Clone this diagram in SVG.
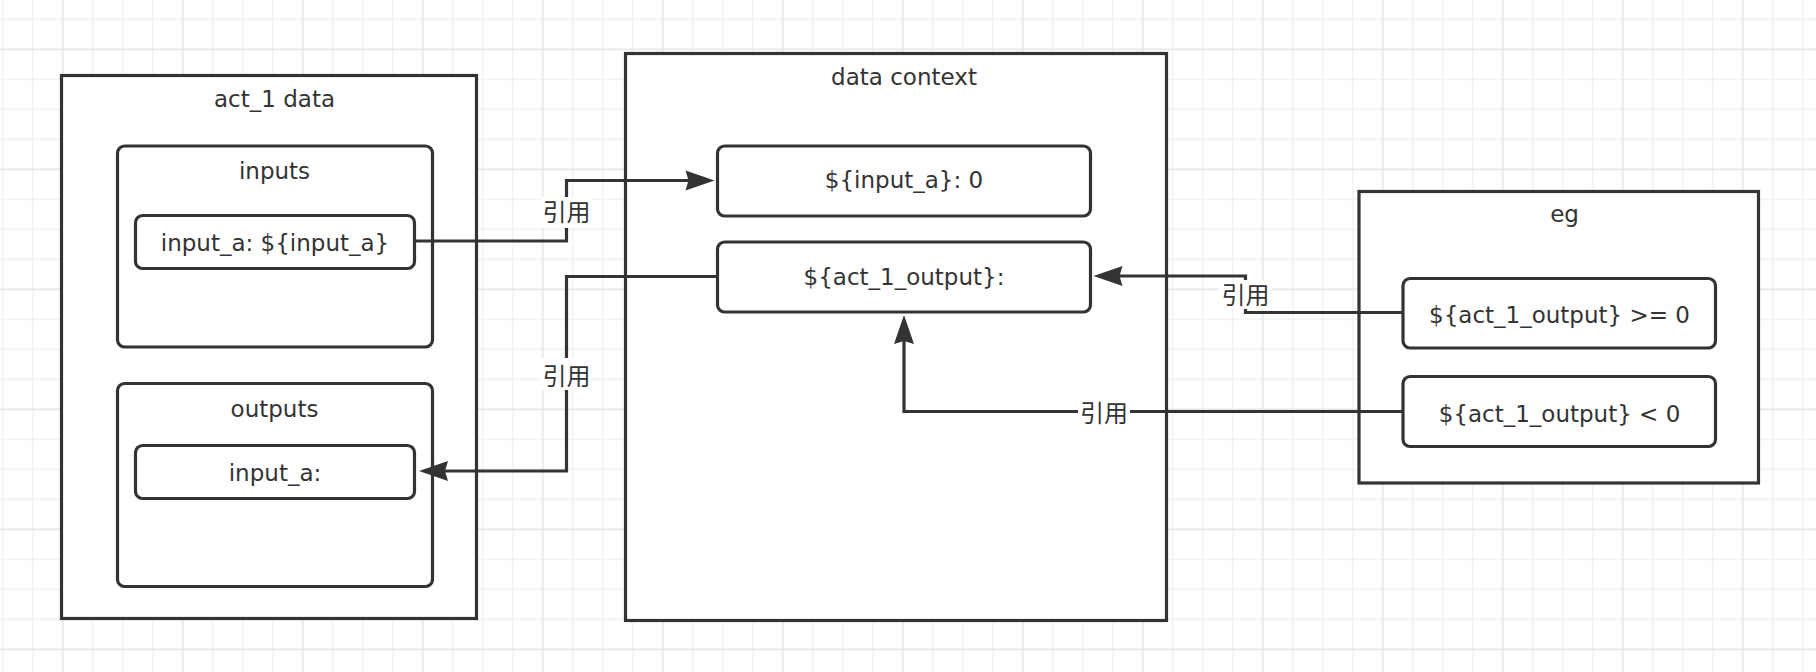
<svg xmlns="http://www.w3.org/2000/svg" width="1816" height="672" viewBox="0 0 1816 672">
<style>
.box{fill:#fff;stroke:#333;stroke-width:3.2}
.t{font-family:"DejaVu Sans","Noto Sans",sans-serif;font-size:23px;fill:#333;text-anchor:middle}
.cn{font-family:"Noto Sans CJK SC","Noto Sans",sans-serif;font-size:24px;fill:#333;text-anchor:middle}
.edge{fill:none;stroke:#333;stroke-width:3.2}
.lbg{fill:#fff}
</style>
<defs>
<pattern id="grid" patternUnits="userSpaceOnUse" x="-12.3" y="4.3" width="120" height="120">
<rect width="120" height="120" fill="#fff"/>
<g fill="#f1f1f1">
<rect x="14.3" y="0" width="1.5" height="120"/>
<rect x="44.3" y="0" width="1.5" height="120"/>
<rect x="104.3" y="0" width="1.5" height="120"/>
<rect x="0" y="14.3" width="120" height="1.5"/>
<rect x="0" y="74.3" width="120" height="1.5"/>
<rect x="0" y="104.3" width="120" height="1.5"/>
</g>
<g fill="#e6e6e6">
<rect x="74.3" y="0" width="1.6" height="120"/>
<rect x="0" y="44.3" width="120" height="1.6"/>
</g>
</pattern>
<marker id="arr" markerUnits="userSpaceOnUse" markerWidth="32" markerHeight="24" refX="10" refY="10" orient="auto" overflow="visible">
<path d="M0,0 L29,10 L0,20 L3,10 z" fill="#333"/>
</marker>
</defs>
<rect width="1816" height="672" fill="url(#grid)"/>

<g id="act1-data">
<rect class="box" x="61.5" y="75.5" width="415" height="543"/>
<text class="t" x="274.5" y="107">act_1 data</text>
</g>
<g id="inputs">
<rect class="box" x="117.5" y="146" width="315" height="201" rx="7"/>
<text class="t" x="274.5" y="179">inputs</text>
</g>
<g id="input-a-in">
<rect class="box" x="135.5" y="215.5" width="279" height="53" rx="7"/>
<text class="t" x="275" y="251">input_a: ${input_a}</text>
</g>
<g id="outputs">
<rect class="box" x="117.5" y="383.5" width="315" height="203" rx="7"/>
<text class="t" x="274.5" y="417">outputs</text>
</g>
<g id="input-a-out">
<rect class="box" x="135.5" y="445.5" width="279" height="53" rx="7"/>
<text class="t" x="275" y="481">input_a:</text>
</g>

<g id="data-context">
<rect class="box" x="625.5" y="53.5" width="541" height="567"/>
<text class="t" x="904" y="85">data context</text>
</g>
<g id="ctx-input-a">
<rect class="box" x="717.5" y="146" width="373" height="70" rx="7"/>
<text class="t" x="904" y="188">${input_a}: 0</text>
</g>
<g id="ctx-act1-output">
<rect class="box" x="717.5" y="242" width="373" height="70" rx="7"/>
<text class="t" x="904" y="285">${act_1_output}:</text>
</g>

<g id="eg">
<rect class="box" x="1359" y="191.5" width="399.5" height="291.5"/>
<text class="t" x="1564.5" y="222">eg</text>
</g>
<g id="eg-ge">
<rect class="box" x="1403" y="278.5" width="312.5" height="69.5" rx="7"/>
<text class="t" x="1559.5" y="323">${act_1_output} &gt;= 0</text>
</g>
<g id="eg-lt">
<rect class="box" x="1403" y="376.5" width="312.5" height="70" rx="7"/>
<text class="t" x="1559.5" y="422">${act_1_output} &lt; 0</text>
</g>

<g id="connectors">
<path class="edge" d="M414.5,241 H566.5 V180.5 H695.5" marker-end="url(#arr)"/>
<path class="edge" d="M717.5,276.5 H566.5 V471 H438" marker-end="url(#arr)"/>
<path class="edge" d="M1403,312.5 H1245.5 V276 H1112.5" marker-end="url(#arr)"/>
<path class="edge" d="M1403,411.5 H904 V334" marker-end="url(#arr)"/>
<rect class="lbg" x="541" y="197" width="51" height="31"/>
<text class="cn" x="566.5" y="221">引用</text>
<rect class="lbg" x="541" y="358" width="51" height="32"/>
<text class="cn" x="566.5" y="385">引用</text>
<rect class="lbg" x="1219" y="280" width="53" height="29"/>
<text class="cn" x="1245.5" y="304">引用</text>
<rect class="lbg" x="1078" y="398" width="52" height="30"/>
<text class="cn" x="1104" y="422">引用</text>
</g>
</svg>
